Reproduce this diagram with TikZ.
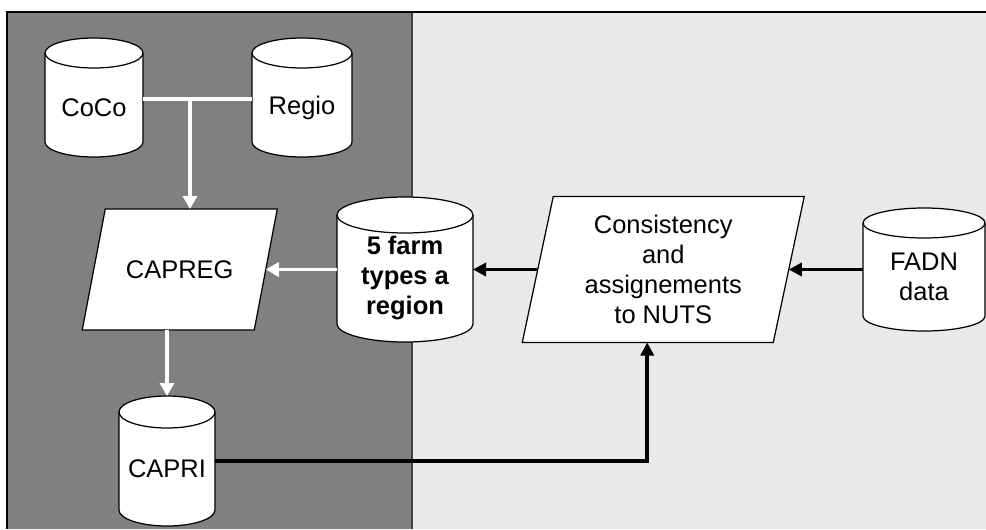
\documentclass[tikz,border=0pt]{standalone}
\usepackage{fontspec}
\setmainfont{Liberation Sans}
\usetikzlibrary{calc,arrows.meta}
\definecolor{panelDark}{RGB}{128,128,128}
\definecolor{panelLight}{RGB}{233,233,233}
\tikzset{
	shape box/.style={inner sep=0pt,outer sep=0pt},
	label text/.style={font=\fontsize{14.5}{17}\selectfont,align=center,inner sep=0pt},
	outline/.style={draw=black,fill=white,line width=0.7pt},
	white flow/.style={draw=white,line width=1.8pt,-{Triangle[length=0.26cm,width=0.28cm]}},
	black flow/.style={draw=black,line width=2.2pt,-{Triangle[length=0.26cm,width=0.26cm]}},
}
\begin{document}
\begin{tikzpicture}[x=0.02cm,y=0.02cm]
		\def\unitpx{0.02cm}
		\def\PlotCylinder#1#2#3{
			\filldraw[outline]($(#1.north west)+(0,-#3)$)
				arc[start angle=180,end angle=0,x radius=#2,y radius=#3]
				--($(#1.south east)+(0,#3)$)
				arc[start angle=0,end angle=-180,x radius=#2,y radius=#3]--cycle;
			\draw[outline,fill=none]($(#1.north west)+(0,-#3)$)
				arc[start angle=180,end angle=360,x radius=#2,y radius=#3];
		}
		\def\PlotSlanted#1#2{
			\filldraw[outline]($(#1.north west)+(#2,0)$)--($(#1.north east)+(#2,0)$)
				--($(#1.south east)+(-#2,0)$)--($(#1.south west)+(-#2,0)$)--cycle;
		}
		\useasboundingbox(0,0)rectangle(986,529);
		\fill[panelDark](7,0)rectangle(412,517);
		\fill[panelLight](412,0)rectangle(986,517);
		\draw[black!75,line width=0.6pt](412,0)--(412,517);
		\draw[black,line width=0.7pt](7,0)--(7,517)--(986,517);

		\node[shape box,minimum width=98*\unitpx,minimum height=119*\unitpx](coco)at(94,431.5){};
		\node[shape box,minimum width=100*\unitpx,minimum height=119*\unitpx](regio)at(302,431.5){};
		\node[shape box,minimum width=172*\unitpx,minimum height=121*\unitpx](capreg)at(179.75,259.5){};
		\node[shape box,minimum width=136*\unitpx,minimum height=145*\unitpx](farm)at(405,259.5){};
		\node[shape box,minimum width=251*\unitpx,minimum height=146*\unitpx](cons)at(663.25,259.5){};
		\node[shape box,minimum width=122*\unitpx,minimum height=123*\unitpx](fadn)at(924,259.5){};
		\node[shape box,minimum width=96*\unitpx,minimum height=130*\unitpx](capri)at(167,68){};

		\PlotCylinder{coco}{49}{15}
		\PlotCylinder{regio}{50}{15}
		\PlotCylinder{farm}{68}{18}
		\PlotCylinder{fadn}{61}{15}
		\PlotCylinder{capri}{48}{16}
		\PlotSlanted{capreg}{11.5}
		\PlotSlanted{cons}{15.5}

		\node[label text](coco-t)at($(coco)+(0,-10)$){CoCo};
		\node[label text](regio-t)at($(regio)+(0,-10)$){Regio};
		\node[label text](capreg-t)at(capreg){CAPREG};
		\node[label text,font=\bfseries\fontsize{14.5}{17}\selectfont](farm-t)at($(farm)+(0,-8.5)$){5 farm\\types a\\region};
		\node[label text](cons-t)at(cons){Consistency\\and\\assignements\\to NUTS};
		\node[label text](fadn-t)at($(fadn)+(0,-7)$){FADN\\data};
		\node[label text](capri-t)at($(capri)+(0,-8)$){CAPRI};

		\coordinate(join)at(190,430);
		\draw[white,line width=1.8pt](coco.east|-join)--(regio.west|-join);
		\draw[white flow](join)--(join|-capreg.north);
		\draw[white flow](farm.west)--(capreg.east);
		\draw[white flow](capreg.south-|capri)--(capri.north);
		\draw[black flow](cons.west)--(farm.east);
		\draw[black flow](fadn.west)--(cons.east);
		\draw[black flow](capri.east)-|([xshift=-16*\unitpx]cons.south);
	\end{tikzpicture}
\end{document}
